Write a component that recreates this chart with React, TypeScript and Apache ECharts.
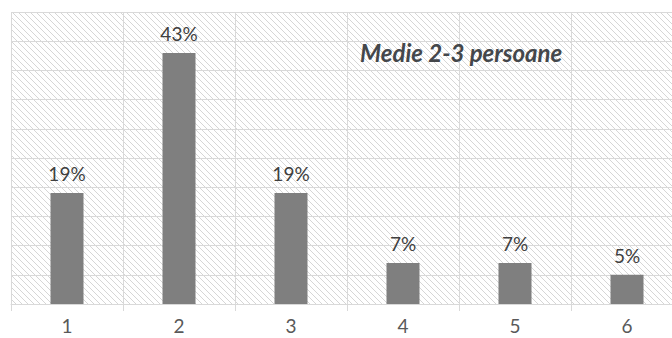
import React, { useEffect, useRef } from "react";
import * as echarts from "echarts";

const categories = ["1", "2", "3", "4", "5", "6"];
const values = [19, 43, 19, 7, 7, 5];
const titleText = "Medie 2-3 persoane";

function makeHatch(): HTMLCanvasElement {
  const size = 6;
  const c = document.createElement("canvas");
  c.width = size;
  c.height = size;
  const ctx = c.getContext("2d")!;
  ctx.fillStyle = "#ffffff";
  ctx.fillRect(0, 0, size, size);
  ctx.fillStyle = "#d6d6d6";
  for (let i = 0; i < size; i++) {
    ctx.fillRect(i, i, 1, 1);
  }
  return c;
}

export default function App() {
  const ref = useRef<HTMLDivElement>(null);
  useEffect(() => {
    if (!ref.current) return;
    const chart = echarts.init(ref.current, null, { renderer: "svg" });
    const hatch = makeHatch();
    chart.setOption({
      animation: false,
      backgroundColor: "#ffffff",
      grid: {
        left: 11,
        top: 12,
        bottom: 34,
        right: -11,
        outerBoundsMode: "none",
        containLabel: false,
        show: true,
        borderWidth: 0,
        backgroundColor: {
          image: hatch,
          repeat: "repeat",
          imageWidth: 6,
          imageHeight: 6,
        } as any,
      } as any,
      title: {
        text: titleText,
        left: 360,
        top: 40,
        padding: 0,
        textStyle: {
          fontFamily: "Lato",
          fontStyle: "italic",
          fontWeight: "bold",
          fontSize: 24,
          color: "#44474b",
        },
      },
      xAxis: {
        type: "category",
        data: categories,
        boundaryGap: true,
        axisLine: { show: true, lineStyle: { color: "#d9d9d9", width: 1 } },
        axisTick: { show: true, length: 7, lineStyle: { color: "#d9d9d9" } },
        axisLabel: {
          color: "#595959",
          fontFamily: "Lato",
          fontSize: 19,
          margin: 12,
        },
        splitLine: { show: true, lineStyle: { color: "#d9d9d9", width: 1 } },
      },
      yAxis: {
        type: "value",
        min: 0,
        max: 50,
        interval: 5,
        axisLabel: { show: false },
        axisLine: { show: false },
        axisTick: { show: false },
        splitLine: { show: true, lineStyle: { color: "#d9d9d9", width: 1 } },
      },
      series: [
        {
          type: "bar",
          data: values,
          barWidth: 33,
          itemStyle: { color: "#7f7f7f" },
          label: {
            show: true,
            position: "top",
            distance: 10,
            formatter: "{c}%",
            color: "#404040",
            fontFamily: "Lato",
            fontSize: 19,
          },
        },
      ],
    });
    return () => chart.dispose();
  }, []);
  return <div ref={ref} style={{ width: 672, height: 338, position: "absolute", left: 0, top: 0 }} />;
}
